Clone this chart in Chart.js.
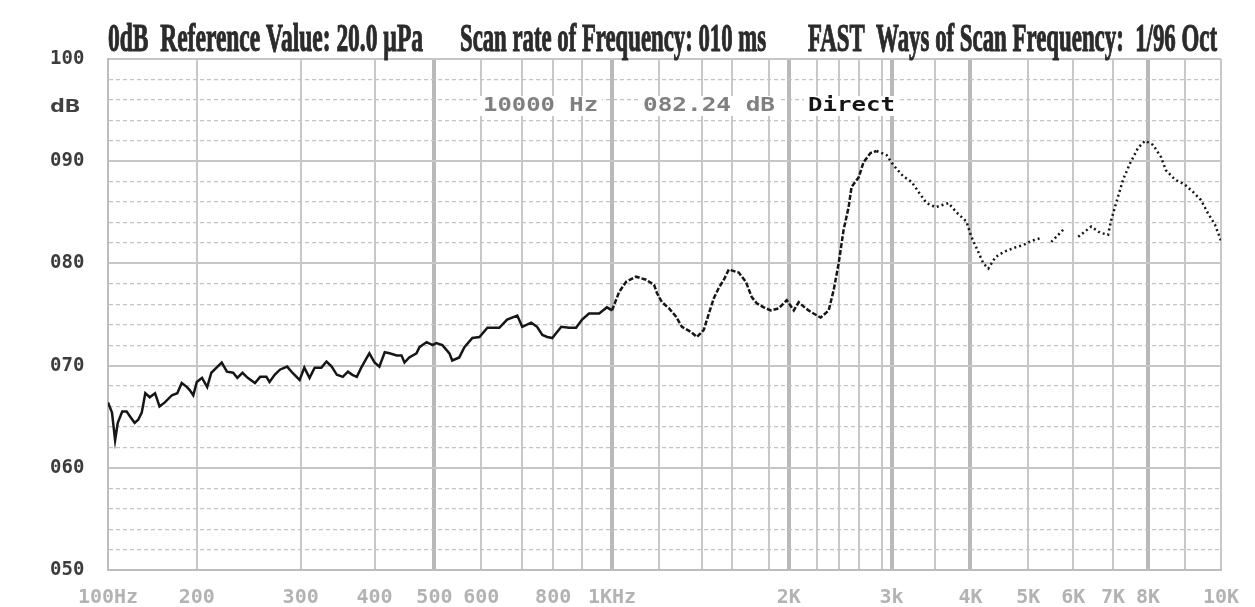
<!DOCTYPE html>
<html>
<head>
<meta charset="utf-8">
<script src="https://cdn.jsdelivr.net/npm/chart.js@4.4.0/dist/chart.umd.min.js"></script>
<style>
    html, body { margin: 0; padding: 0; background: #fff; }
</style>
</head>
<body>
<canvas id="spectrumChart" width="1255" height="607"></canvas>
<script>
// Grid frequencies printed by the analyser (Hz)
const gridHz = [100, 200, 300, 400, 500, 600, 700, 800, 900, 1000, 1200, 1400, 1600, 1800, 2000,
    2200, 2400, 2600, 2800, 3000, 3500, 4000, 5000, 6000, 7000, 8000, 9000, 10000];
// Heavier grid lines
const majorHz = [500, 1000, 2000, 3000, 4000, 8000];

// Labelled frequencies on the x axis
const labelHz = [100, 200, 300, 400, 500, 600, 800, 1000, 2000, 3000, 4000, 5000, 6000, 7000, 8000, 10000];
const labelText = ['100Hz', '200', '300', '400', '500', '600', '800', '1KHz', '2K', '3k', '4K', '5K', '6K', '7K', '8K', '10K'];

// Measured response (null = gap in the trace)
const freqHz = [100, 104.5, 108, 111, 116, 121, 125, 130, 134, 138, 142, 147, 153, 158, 164, 172, 178, 183, 189, 192,
    196, 200, 205, 210, 214, 219, 224, 229, 235, 239, 244, 249, 256, 261, 267, 270, 275, 280, 287, 292,
    299, 305, 312, 319, 328, 335, 342, 349, 357, 364, 370, 376, 382, 389, 393, 400, 408, 417, 425, 437,
    445, 450, 458, 470, 475, 487, 497, 504, 517, 532, 538, 553, 564, 581, 596, 615, 644, 663, 688, 700,
    729, 748, 765, 781, 797, 828, 855, 879, 900, 923, 957, 983, 1000, 1030, 1060, 1102, 1145, 1179, 1191, 1214,
    1247, 1279, 1307, 1349, 1377, 1413, 1447, 1480, 1513, 1547, 1580, 1638, 1676, 1708, 1735, 1773, 1820, 1900, 1980, 2036,
    2071, 2121, 2164, 2236, 2309, 2355, 2400, 2450, 2500, 2530, 2600, 2643, 2704, 2757, 2900, 3023, 3136, 3227, 3307, 3398,
    3500, 3686, 3800, 3943, 4017, 4138, 4224, 4310, 4431, 4569, 4741, 4914, 5067, 5289, 5400, 5511, 5778, 5950, 6125, 6450,
    6675, 6875, 6950, 7086, 7286, 7486, 7714, 7914, 8135, 8351, 8486, 8730, 9000, 9222, 9444, 9639, 9833, 10000];
const levelDb = [66.4, 65.4, 62.7, 64.4, 65.5, 65.5, 65.0, 64.4, 64.7, 65.4, 67.3, 66.9, 67.3, 66.0, 66.4, 67.1, 67.3, 68.3, 67.9, 67.6,
    67.1, 68.4, 68.8, 67.9, 69.3, 69.8, 70.3, 69.4, 69.3, 68.8, 69.3, 68.8, 68.3, 68.9, 68.9, 68.4, 69.1, 69.6, 69.9, 69.3,
    68.6, 69.8, 68.8, 69.8, 69.8, 70.4, 69.9, 69.1, 68.9, 69.4, 69.1, 68.9, 69.8, 70.7, 71.2, 70.3, 69.9, 71.3, 71.2, 71.0,
    71.0, 70.3, 70.8, 71.2, 71.8, 72.3, 72.0, 72.2, 72.0, 71.2, 70.5, 70.8, 71.8, 72.7, 72.8, 73.7, 73.7, 74.5, 74.9, 73.8,
    74.2, 73.8, 73.0, 72.8, 72.7, 73.8, 73.7, 73.7, 74.5, 75.1, 75.1, 75.7, 75.4, 77.2, 78.2, 78.7, 78.4, 77.9, 77.1, 76.2,
    75.6, 74.8, 73.8, 73.3, 72.8, 73.5, 75.1, 76.6, 77.6, 78.4, 79.4, 79.1, 78.2, 76.7, 76.1, 75.7, 75.4, 75.6, 76.4, 75.4,
    76.2, 75.6, 75.2, 74.7, 75.4, 77.4, 80.0, 83.3, 85.5, 87.5, 88.4, 89.9, 90.8, 91.0, 90.6, 89.6, 88.5, 88.0, 87.0, 85.9,
    85.5, 85.9, 85.0, 84.1, 82.6, 81.1, 80.0, 79.5, 80.6, 81.1, 81.5, 81.8, 82.2, 82.5, null, 82.1, 83.3, null, 82.6, 83.6,
    83.0, 82.8, 84.2, 85.9, 88.2, 89.8, 91.3, 92.0, 91.6, 90.4, 89.1, 88.2, 87.7, 87.0, 86.2, 84.9, 83.8, 82.24];

// Header and readout texts
const headText = ['0dB  Reference Value: 20.0 \u00b5Pa', 'Scan rate of Frequency: 010 ms', 'FAST  Ways of Scan Frequency:  1/96 Oct'];
const readText = ['10000 Hz', '082.24 dB', 'Direct'];

// Where each grid frequency sits across the plot width (0..1), as printed
const gridPos = [0, 0.0798, 0.1731, 0.2395, 0.2933, 0.3354, 0.3722, 0.4000, 0.4260, 0.4529, 0.4951, 0.5336, 0.5605, 0.5937,
    0.6117, 0.6368, 0.6565, 0.6744, 0.6951, 0.7040, 0.7435, 0.7749, 0.8269, 0.8673, 0.9031, 0.9345, 0.9677, 1];

function hzToDecimal(v) {
    if (v <= gridHz[0]) return gridPos[0];
    for (let i = 0; i < gridHz.length - 1; i++) {
        if (v <= gridHz[i + 1]) {
            const t = (v - gridHz[i]) / (gridHz[i + 1] - gridHz[i]);
            return gridPos[i] + t * (gridPos[i + 1] - gridPos[i]);
        }
    }
    return gridPos[gridPos.length - 1];
}

function decimalToHz(d) {
    if (d <= gridPos[0]) return gridHz[0];
    for (let i = 0; i < gridPos.length - 1; i++) {
        if (d <= gridPos[i + 1]) {
            const t = (d - gridPos[i]) / (gridPos[i + 1] - gridPos[i]);
            return gridHz[i] + t * (gridHz[i + 1] - gridHz[i]);
        }
    }
    return gridHz[gridHz.length - 1];
}

// Frequency axis with the uneven spacing of the analyser printout
class PrintoutScale extends Chart.LinearScale {
    buildTicks() {
        return gridHz.map(v => ({ value: v }));
    }
    getPixelForValue(value) {
        return this.getPixelForDecimal(hzToDecimal(value));
    }
    getValueForPixel(pixel) {
        return decimalToHz(this.getDecimalForPixel(pixel));
    }
}
PrintoutScale.id = 'printout';
PrintoutScale.defaults = Chart.LinearScale.defaults;
Chart.register(PrintoutScale);

function fitText(ctx, text, x, y, w, stroke) {
    const m = ctx.measureText(text).width;
    ctx.save();
    ctx.translate(x, y);
    ctx.scale(w / m, 1);
    ctx.fillText(text, 0, 0);
    if (stroke) ctx.strokeText(text, 0, 0);
    ctx.restore();
}

const printoutText = {
    id: 'printoutText',
    afterDraw(chart) {
        const ctx = chart.ctx;
        ctx.save();
        ctx.textAlign = 'left';

        // Header line
        ctx.fillStyle = '#2b2b2b';
        ctx.strokeStyle = '#2b2b2b';
        ctx.lineWidth = 1.1;
        ctx.font = 'bold 40px "Liberation Serif"';
        ctx.textBaseline = 'alphabetic';
        const headX = [108, 460, 808];
        const headW = [315, 306, 409];
        headText.forEach((t, i) => fitText(ctx, t, headX[i], 51, headW[i], true));

        // Unit label on the level axis
        ctx.font = 'bold 18px "DejaVu Sans Mono"';
        ctx.textBaseline = 'middle';
        ctx.fillStyle = '#404040';
        fitText(ctx, 'dB', 50, 107, 30);

        // Cursor readout
        const readX = [483, 643, 808];
        const readW = [115, 132, 87];
        const readColor = ['#808080', '#808080', '#151515'];
        ctx.font = 'bold 19px "DejaVu Sans Mono"';
        readText.forEach((t, i) => {
            ctx.fillStyle = '#ffffff';
            ctx.fillRect(readX[i] - 4, 96, readW[i] + 8, 20);
            ctx.fillStyle = readColor[i];
            fitText(ctx, t, readX[i], 106, readW[i]);
        });
        ctx.restore();
    }
};

const ctx = document.getElementById('spectrumChart');
new Chart(ctx, {
    type: 'line',
    data: {
        datasets: [{
            data: freqHz.map((f, i) => ({ x: f, y: levelDb[i] })),
            borderColor: '#161616',
            borderWidth: 2.5,
            pointRadius: 0,
            tension: 0,
            spanGaps: false,
            segment: {
                borderDash: c => {
                    const f = c.p0.parsed.x;
                    if (f >= 2750) return [2, 3];
                    if (f >= 1000) return [5, 2];
                    return undefined;
                }
            }
        }]
    },
    options: {
        responsive: false,
        animation: false,
        events: [],
        layout: {
            padding: { top: 59, right: 32, left: 50, bottom: 0 }
        },
        plugins: {
            legend: { display: false },
            title: { display: false },
            tooltip: { enabled: false }
        },
        scales: {
            x: {
                type: 'printout',
                min: 100,
                max: 10000,
                afterFit: s => { s.height = 37; },
                border: { color: '#bdbdbd', width: 2 },
                grid: {
                    drawTicks: false,
                    color: c => majorHz.includes(c.tick && c.tick.value) ? '#b9b9b9' : '#c8c8c8',
                    lineWidth: c => majorHz.includes(c.tick && c.tick.value) ? 4 : 2
                },
                ticks: {
                    autoSkip: false,
                    maxRotation: 0,
                    padding: 16,
                    color: '#b3b3b3',
                    font: { family: 'DejaVu Sans Mono', size: 20, weight: 'bold' },
                    callback: v => {
                        const i = labelHz.indexOf(v);
                        return i >= 0 ? labelText[i] : '';
                    }
                }
            },
            y: {
                min: 50,
                max: 100,
                afterFit: s => { s.width = 58; },
                border: {
                    color: '#bdbdbd',
                    width: 2,
                    dash: c => (c.tick && c.tick.value % 10 !== 0) ? [4, 3] : []
                },
                grid: {
                    drawTicks: false,
                    color: c => (c.tick && c.tick.value % 10 === 0) ? '#c6c6c6' : '#c4c4c4',
                    lineWidth: c => (c.tick && c.tick.value % 10 === 0) ? 2 : 1.2
                },
                ticks: {
                    stepSize: 2,
                    autoSkip: false,
                    crossAlign: 'far',
                    color: '#3c3c3c',
                    font: { family: 'DejaVu Sans Mono', size: 19, weight: 'bold' },
                    callback: v => v % 10 === 0 ? String(v).padStart(3, '0') : ''
                }
            }
        }
    },
    plugins: [printoutText]
});
</script>
</body>
</html>
